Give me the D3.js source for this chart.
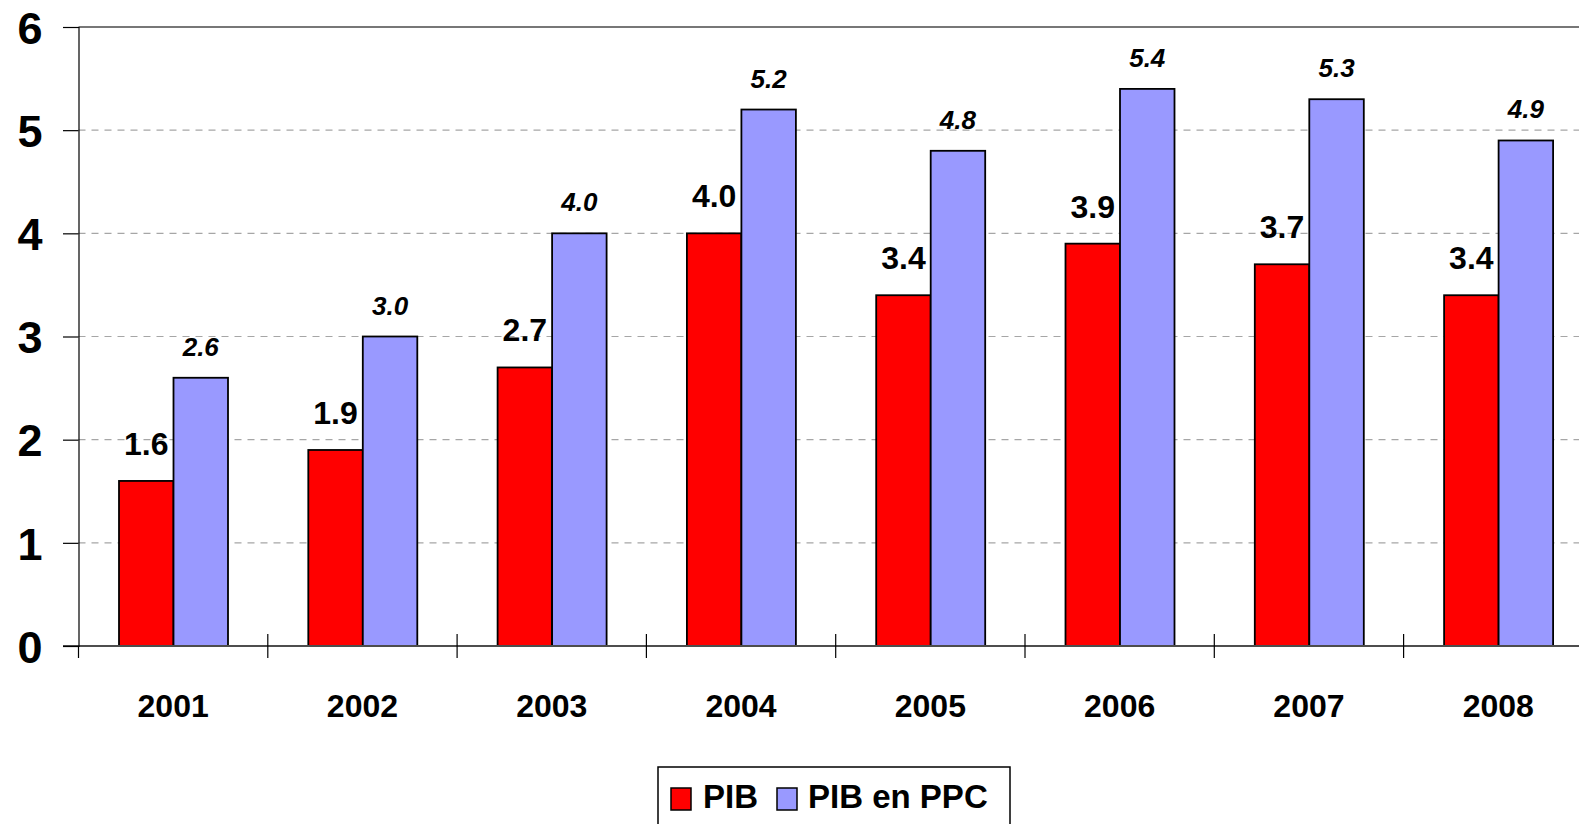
<!DOCTYPE html>
<html>
<head>
<meta charset="utf-8">
<script src="https://cdn.jsdelivr.net/npm/d3@7"></script>
<style>
  html, body { margin: 0; padding: 0; background: #fff; overflow: hidden; }
  svg { display: block; font-family: "Liberation Sans", Arial, sans-serif; }
</style>
</head>
<body>
<svg id="chart" width="1579" height="824"></svg>
<script>
// Years on the x axis
const years = ["2001", "2002", "2003", "2004", "2005", "2006", "2007", "2008"];
// Series values
const pib    = [1.6, 1.9, 2.7, 4.0, 3.4, 3.9, 3.7, 3.4];
const pibPpc = [2.6, 3.0, 4.0, 5.2, 4.8, 5.4, 5.3, 4.9];
// Series names and y ticks
const seriesNames = ["PIB", "PIB en PPC"];
const yTicks = [0, 1, 2, 3, 4, 5, 6];

const colors = { "PIB": "#ff0000", "PIB en PPC": "#9999ff" };

const svg = d3.select("#chart");
const plotLeft = 78.5, plotTop = 27, plotBottom = 646;
const bandW = 189.3;
const plotRight = plotLeft + bandW * years.length;

const x = d3.scaleBand().domain(years).range([plotLeft, plotRight]).padding(0);
const groupPad = 40.5, barW = 54.5;
const xs = d3.scaleBand().domain(seriesNames)
  .range([groupPad, groupPad + barW * 2]).padding(0);
const y = d3.scaleLinear().domain([0, 6]).range([plotBottom, plotTop]);

// Dashed gridlines
svg.append("g").selectAll("line")
  .data(yTicks.filter(d => d > 0 && d < 6))
  .join("line")
  .attr("x1", plotLeft).attr("x2", 1579)
  .attr("y1", d => y(d)).attr("y2", d => y(d))
  .attr("stroke", "#a6a6a6").attr("stroke-width", 1.2)
  .attr("stroke-dasharray", "7,6");

// Top border of the plot
svg.append("line")
  .attr("x1", plotLeft).attr("x2", 1579)
  .attr("y1", y(6)).attr("y2", y(6))
  .attr("stroke", "#777").attr("stroke-width", 2);

// Bars
const rows = years.map((yr, i) => ({ year: yr, values: [
  { name: "PIB", v: pib[i] }, { name: "PIB en PPC", v: pibPpc[i] }
]}));

const groups = svg.append("g").selectAll("g")
  .data(rows).join("g")
  .attr("transform", d => `translate(${x(d.year)},0)`);

groups.selectAll("rect")
  .data(d => d.values).join("rect")
  .attr("x", d => xs(d.name))
  .attr("y", d => y(d.v))
  .attr("width", xs.bandwidth())
  .attr("height", d => y(0) - y(d.v))
  .attr("fill", d => colors[d.name])
  .attr("stroke", "#000").attr("stroke-width", 1.8);

// Value labels
groups.selectAll("text.val")
  .data(d => d.values).join("text")
  .attr("class", "val")
  .attr("x", d => xs(d.name) + xs.bandwidth() / 2)
  .attr("y", d => y(d.v) - (d.name === "PIB" ? 26 : 22))
  .attr("text-anchor", "middle")
  .attr("font-weight", "bold")
  .attr("font-style", d => d.name === "PIB" ? "normal" : "italic")
  .attr("font-size", d => d.name === "PIB" ? 32 : 26)
  .attr("fill", "#000")
  .text(d => d3.format(".1f")(d.v));

// X axis line
svg.append("line")
  .attr("x1", 63).attr("x2", 1579)
  .attr("y1", y(0)).attr("y2", y(0))
  .attr("stroke", "#4d4d4d").attr("stroke-width", 2);

// Y axis
const yAxis = d3.axisLeft(y).tickValues(yTicks).tickSize(15.5).tickFormat(d3.format("d"));
const gy = svg.append("g").attr("transform", `translate(${plotLeft},0)`).call(yAxis);
gy.select(".domain").attr("stroke", "#000").attr("stroke-width", 1.2);
gy.selectAll(".tick line").attr("stroke", "#000").attr("stroke-width", 1.2);
gy.selectAll(".tick text")
  .attr("x", -36).attr("dy", "0.36em")
  .attr("font-family", "Liberation Sans, Arial, sans-serif")
  .attr("font-size", 45).attr("font-weight", "bold").attr("fill", "#000");

// X axis ticks at category boundaries
const bounds = years.map(d => x(d));
svg.append("g").selectAll("line")
  .data(bounds).join("line")
  .attr("x1", d => d).attr("x2", d => d)
  .attr("y1", (d, i) => i === 0 ? y(0) : y(0) - 12)
  .attr("y2", y(0) + 12)
  .attr("stroke", "#000").attr("stroke-width", 1.2);

// X labels
svg.append("g").selectAll("text")
  .data(years).join("text")
  .attr("x", d => x(d) + x.bandwidth() / 2)
  .attr("y", 717)
  .attr("text-anchor", "middle")
  .attr("font-size", 32).attr("font-weight", "bold").attr("fill", "#000")
  .text(d => d);

// Legend
const lg = svg.append("g");
lg.append("rect")
  .attr("x", 658).attr("y", 767).attr("width", 352).attr("height", 70)
  .attr("fill", "#fff").attr("stroke", "#000").attr("stroke-width", 1.5);
const legendItems = [
  { name: "PIB", sx: 671, tx: 703 },
  { name: "PIB en PPC", sx: 777, tx: 808 }
];
legendItems.forEach(it => {
  lg.append("rect")
    .attr("x", it.sx).attr("y", 788).attr("width", 20).attr("height", 22)
    .attr("fill", colors[it.name]).attr("stroke", "#000").attr("stroke-width", 1.5);
  lg.append("text")
    .attr("x", it.tx).attr("y", 808)
    .attr("font-size", 33).attr("font-weight", "bold").attr("fill", "#000")
    .text(it.name);
});
</script>
</body>
</html>
